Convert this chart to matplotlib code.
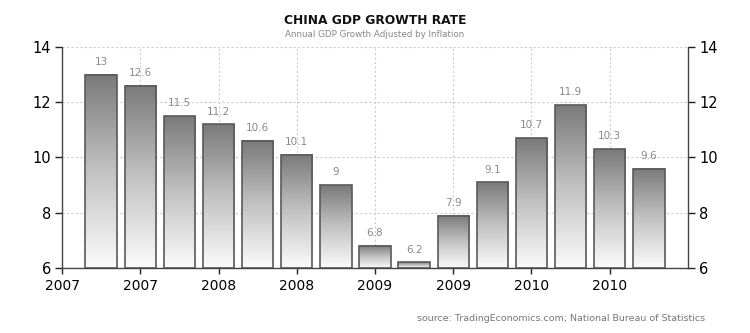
import numpy as np
import matplotlib
matplotlib.use("Agg")
import matplotlib.pyplot as plt
from matplotlib.colors import LinearSegmentedColormap

values = [13, 12.6, 11.5, 11.2, 10.6, 10.1, 9, 6.8, 6.2, 7.9, 9.1, 10.7, 11.9, 10.3, 9.6]
value_labels = ["13", "12.6", "11.5", "11.2", "10.6", "10.1", "9", "6.8", "6.2", "7.9", "9.1", "10.7", "11.9", "10.3", "9.6"]
tick_labels = ["2007", "2007", "2008", "2008", "2009", "2009", "2010", "2010"]
tick_positions = [-1, 1, 3, 5, 7, 9, 11, 13]
yticks = [6, 8, 10, 12, 14]

plt.rcParams['font.family'] = ['DejaVu Sans']
fig = plt.figure(figsize=(7.5, 3.33), dpi=100)
ax = fig.add_axes([0.0827, 0.1952, 0.8346, 0.6637])

ymin, ymax = 6, 14
ax.set_xlim(-1, 15)
ax.set_ylim(ymin, ymax)

cmap = LinearSegmentedColormap.from_list("g", ["#fbfbfb", "#c2c2c2", "#7a7a7a"])
grad = np.linspace(0, 1, 256).reshape(-1, 1)
w = 0.8
x = np.arange(len(values))
for xi, v in zip(x, values):
    ax.imshow(grad, extent=[xi - w / 2, xi + w / 2, ymin, v], origin="lower",
              cmap=cmap, aspect="auto", zorder=2, interpolation="bilinear")
ax.bar(x, np.array(values) - ymin, bottom=ymin, width=w, facecolor="none",
       edgecolor="#5a5a5a", linewidth=1.2, zorder=3)
ax.set_xlim(-1, 15)
ax.set_ylim(ymin, ymax)

for xi, v, lab in zip(x, values, value_labels):
    ax.text(xi, v + 0.28, lab, ha="center", va="bottom", fontsize=7.5, color="#8a8a8a", zorder=4)

ax.set_xticks(tick_positions)
ax.set_xticklabels(tick_labels, fontsize=10)
ax.set_yticks(yticks)
ax.set_yticklabels([str(t) for t in yticks], fontsize=10.5)
ax.tick_params(axis="y", which="both", left=True, right=True, labelleft=True, labelright=True,
               length=5, width=1, color="#222222", pad=3)
ax.tick_params(axis="x", length=4, width=1, color="#222222", pad=4)
ax.grid(True, color="#cccccc", linestyle=(0, (2, 2)), linewidth=0.8, zorder=0)
ax.set_axisbelow(True)
ax.spines["top"].set_visible(False)
for s in ["left", "right", "bottom"]:
    ax.spines[s].set_color("#444444")
    ax.spines[s].set_linewidth(1.0)

fig.text(0.5, 0.937, "CHINA GDP GROWTH RATE", ha="center", va="center", fontsize=8.8,
         fontweight="bold", color="#111111")
fig.text(0.5, 0.895, "Annual GDP Growth Adjusted by Inflation", ha="center", va="center",
         fontsize=6.3, color="#888888")
fig.text(0.94, 0.045, "source: TradingEconomics.com; National Bureau of Statistics", ha="right",
         va="center", fontsize=6.8, color="#777777")

fig.savefig("out.png", dpi=100)
